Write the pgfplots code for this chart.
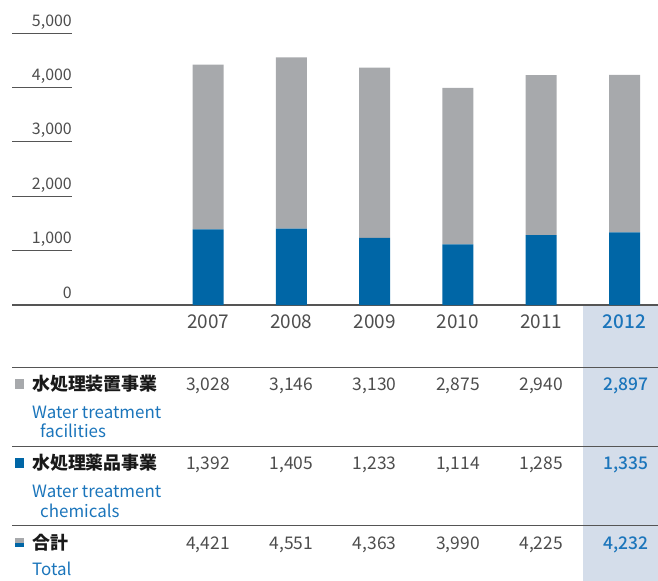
\documentclass[border=0pt]{standalone}
\usepackage{fontspec}
\setmainfont{Noto Sans CJK JP}
\newfontfamily\medfont{Noto Sans CJK JP Medium}
\usepackage{pgfplots}
\pgfplotsset{compat=1.18}
\definecolor{barGray}{HTML}{A7A9AC}
\definecolor{barBlue}{HTML}{0066A6}
\definecolor{txtBlue}{HTML}{1B75BB}
\definecolor{numGray}{HTML}{4D4D4D}
\definecolor{lineGray}{HTML}{555555}
\definecolor{hlFill}{HTML}{D4DDEA}
\begin{document}
\begin{tikzpicture}[x=1bp,y=1bp]
\useasboundingbox (0,0) rectangle (658,-581);
\fill[hlFill] (583,-305.6) rectangle (658,-581);
\begin{axis}[
  at={(12bp,-305bp)}, anchor=south west,
  scale only axis, width=646bp, height=272bp,
  xmin=-2.353, xmax=5.402, ymin=0, ymax=5000,
  ybar stacked, bar width=31bp,
  axis x line=bottom, axis y line=left,
  x axis line style={-, draw=lineGray, line width=1.2bp},
  y axis line style={draw=none},
  xtick={0,1,2,3,4,5},
  xticklabels={2007,2008,2009,2010,2011,{\medfont\color{txtBlue}2012}},
  xticklabel style={anchor=base, inner sep=0pt, yshift=-23bp, font=\fontsize{19}{19}\selectfont, text=numGray},
  major x tick style={draw=none},
  ytick={0,1000,2000,3000,4000,5000},
  tick align=inside,
  major tick length=60bp,
  y tick style={draw=lineGray, line width=1bp},
  yticklabel style={anchor=base east, inner sep=0pt, xshift=60bp, yshift=7bp, font=\fontsize{16}{16}\selectfont, text=numGray},
  /pgf/number format/assume math mode=true,
  /pgf/number format/1000 sep={,},
  clip=false,
]
\addplot[fill=barBlue, draw=none] coordinates {(0,1392) (1,1405) (2,1233) (3,1114) (4,1285) (5,1335)};
\addplot[fill=barGray, draw=none] coordinates {(0,3028) (1,3146) (2,3130) (3,2875) (4,2940) (5,2897)};
\end{axis}
% table lines
\foreach \yy in {367,446,525} \draw[lineGray, line width=1bp] (12,-\yy) -- (658,-\yy);
% legend squares
\fill[barGray] (15,-379) rectangle (24,-389);
\fill[barBlue] (15,-458) rectangle (24,-468);
\fill[barGray] (15,-538) rectangle (24,-542.5);
\fill[barBlue] (15,-542.5) rectangle (24,-547);
% row labels
\begin{scope}[every node/.style={inner sep=0pt, anchor=base west}]
\node[font=\fontsize{18}{18}\selectfont\bfseries, text=black!90] at (32,-390) {水処理装置事業};
\node[font=\fontsize{17}{17}\selectfont, text=txtBlue] at (32,-418) {Water treatment};
\node[font=\fontsize{17}{17}\selectfont, text=txtBlue] at (40,-437) {facilities};
\node[font=\fontsize{18}{18}\selectfont\bfseries, text=black!90] at (32,-469) {水処理薬品事業};
\node[font=\fontsize{17}{17}\selectfont, text=txtBlue] at (32,-497) {Water treatment};
\node[font=\fontsize{17}{17}\selectfont, text=txtBlue] at (40,-517) {chemicals};
\node[font=\fontsize{18}{18}\selectfont\bfseries, text=black!90] at (32,-549) {合計};
\node[font=\fontsize{17}{17}\selectfont, text=txtBlue] at (32,-575) {Total};
\end{scope}
% values
\begin{scope}[every node/.style={inner sep=0pt, anchor=base, font=\fontsize{17.5}{17.5}\selectfont, text=numGray}]
\foreach \xx/\a/\b/\c in {208/{3,028}/{1,392}/{4,421}, 291.3/{3,146}/{1,405}/{4,551}, 374.6/{3,130}/{1,233}/{4,363}, 457.9/{2,875}/{1,114}/{3,990}, 541.2/{2,940}/{1,285}/{4,225}}{
  \node at (\xx,-390) {\a};
  \node at (\xx,-469) {\b};
  \node at (\xx,-549) {\c};
}
\node[text=txtBlue, font=\fontsize{17.5}{17.5}\selectfont\medfont] at (626,-390) {2,897};
\node[text=txtBlue, font=\fontsize{17.5}{17.5}\selectfont\medfont] at (626,-469) {1,335};
\node[text=txtBlue, font=\fontsize{17.5}{17.5}\selectfont\medfont] at (626,-549) {4,232};
\end{scope}
\end{tikzpicture}
\end{document}
